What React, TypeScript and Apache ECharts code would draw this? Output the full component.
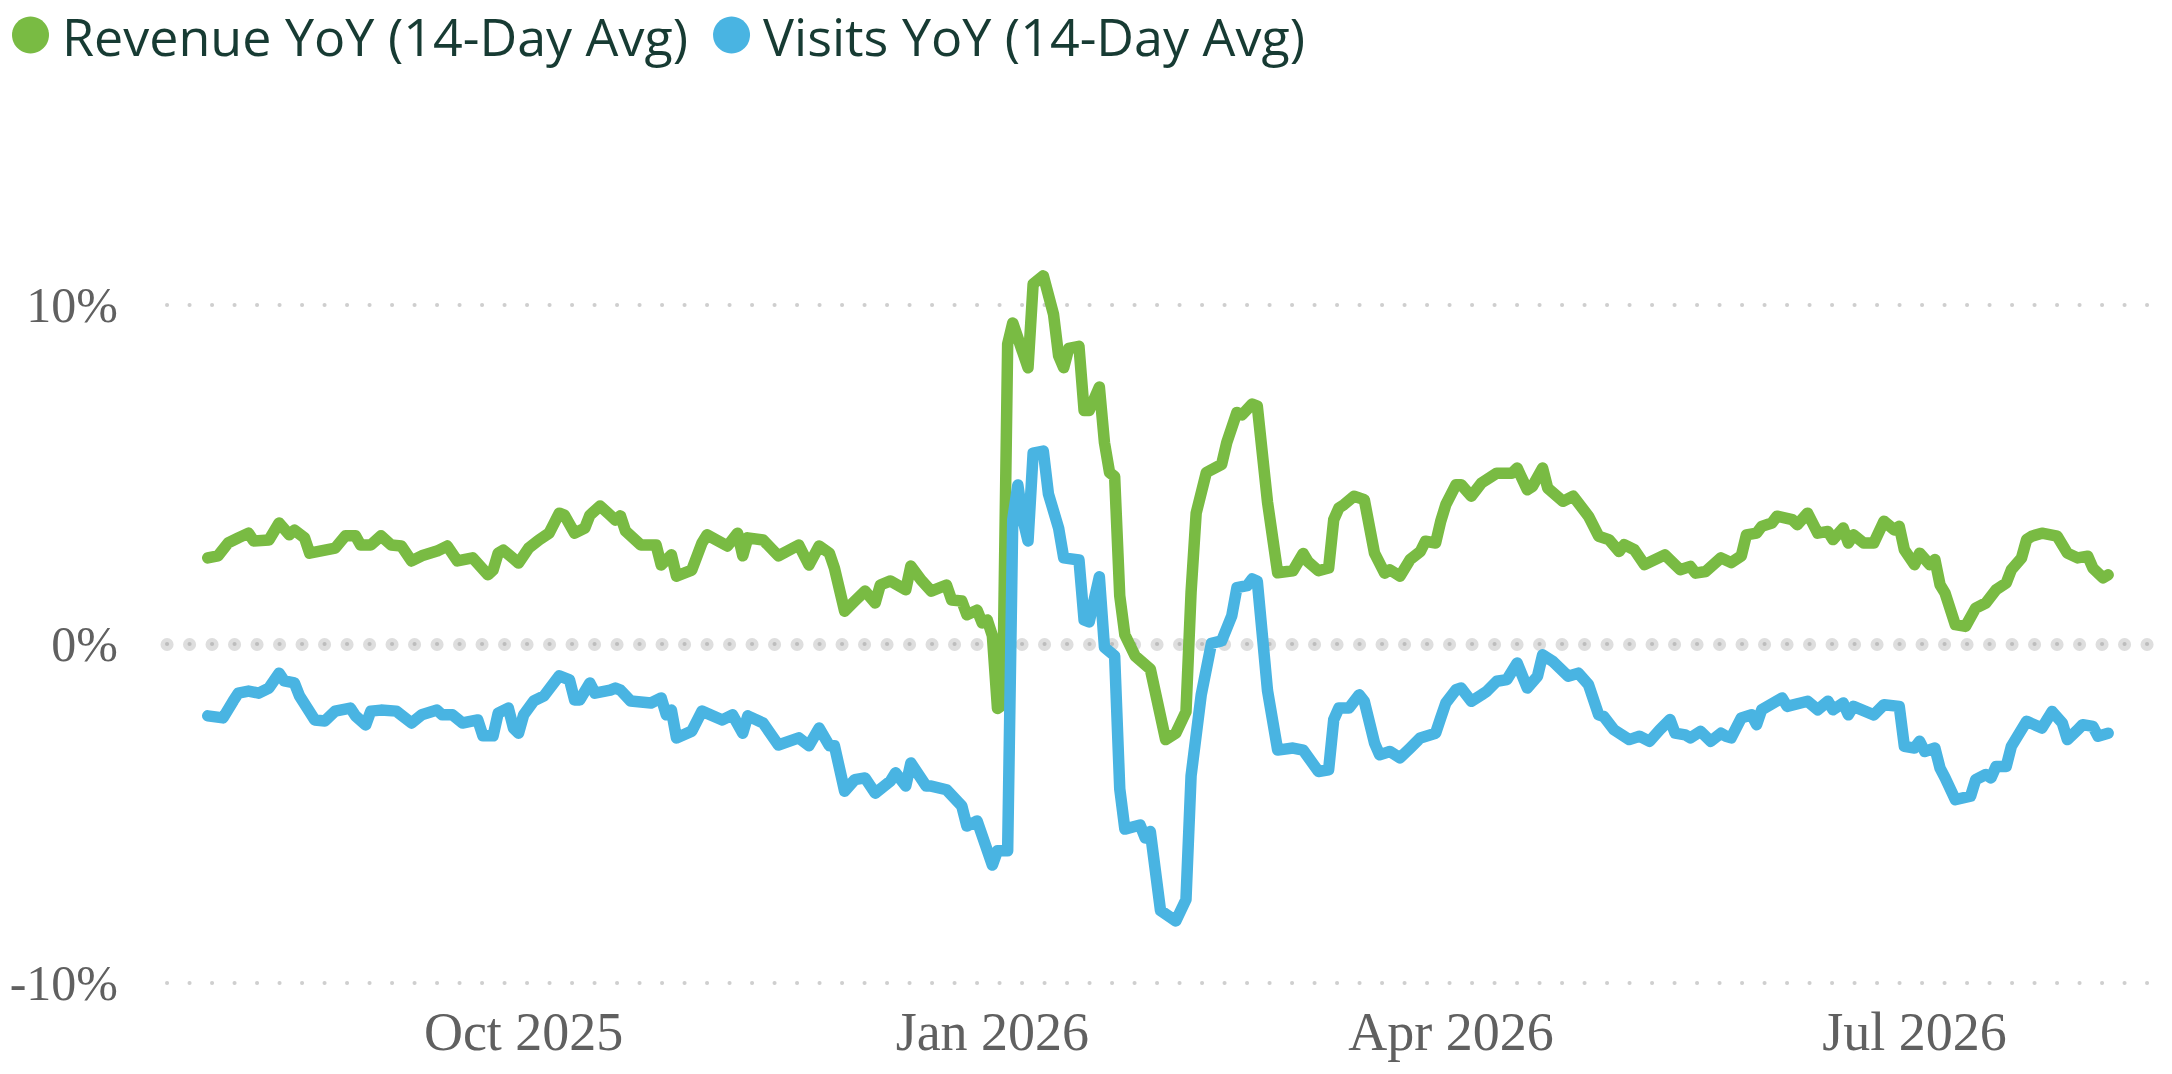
import { useEffect, useRef } from "react";
import * as echarts from "echarts";

const GREEN = "#79bb43";
const BLUE = "#49b4e2";

// one category per day, 2025-07-23 .. 2026-08-17
const START = Date.UTC(2025, 6, 23);
const DAY_COUNT = 391;
const days = Array.from({ length: DAY_COUNT }, (_, i) =>
  new Date(START + i * 86400000).toISOString().slice(0, 10)
);

const quarterTicks = ["2025-10-01", "2026-01-01", "2026-04-01", "2026-07-01"];
const monthNames = ["Jan", "Feb", "Mar", "Apr", "May", "Jun", "Jul", "Aug", "Sep", "Oct", "Nov", "Dec"];
const yTicks = [-10, 0, 10];

// [day index since 2025-07-23, YoY %]
const revenueYoY: [number, number][] = [
  [8, 2.54], [10, 2.6], [12, 2.98], [14, 3.13], [16, 3.27], [17, 3.04], [20, 3.07], [22, 3.57],
  [24, 3.22], [25, 3.36], [27, 3.13], [28, 2.68], [31, 2.77], [33, 2.83], [35, 3.19], [37, 3.19],
  [38, 2.92], [40, 2.92], [42, 3.19], [44, 2.92], [46, 2.89], [48, 2.45], [50, 2.6], [53, 2.74],
  [55, 2.89], [57, 2.45], [60, 2.54], [63, 2.04], [64, 2.18], [65, 2.68], [66, 2.77], [69, 2.39],
  [71, 2.83], [73, 3.07], [75, 3.27], [77, 3.86], [78, 3.8], [80, 3.27], [82, 3.42], [83, 3.8],
  [85, 4.07], [87, 3.8], [88, 3.66], [89, 3.78], [90, 3.33], [93, 2.92], [96, 2.92], [97, 2.33],
  [99, 2.63], [100, 2.0], [103, 2.18], [105, 2.98], [106, 3.22], [110, 2.89], [112, 3.27], [113, 2.6],
  [114, 3.13], [117, 3.07], [120, 2.6], [124, 2.92], [126, 2.33], [128, 2.89], [130, 2.68], [131, 2.24],
  [133, 0.97], [135, 1.27], [137, 1.56], [139, 1.21], [140, 1.74], [142, 1.86], [145, 1.6], [146, 2.3],
  [148, 1.89], [150, 1.56], [153, 1.74], [154, 1.3], [156, 1.27], [157, 0.86], [159, 1.0], [160, 0.62],
  [161, 0.71], [162, 0.24], [163, -1.9], [164, -1.8], [165, 8.85], [166, 9.47], [169, 8.15], [170, 10.62],
  [172, 10.86], [174, 9.73], [175, 8.5], [176, 8.15], [177, 8.72], [179, 8.78], [180, 6.89], [181, 6.89],
  [183, 7.58], [184, 5.94], [185, 5.06], [186, 4.94], [187, 1.42], [188, 0.27], [190, -0.35], [193, -0.74],
  [196, -2.82], [198, -2.63], [200, -2.0], [201, 1.53], [202, 3.86], [204, 5.06], [207, 5.3], [208, 5.94],
  [210, 6.83], [211, 6.76], [213, 7.08], [214, 7.02], [216, 4.19], [218, 2.1], [221, 2.16], [223, 2.67],
  [224, 2.42], [226, 2.16], [228, 2.24], [229, 3.67], [230, 4.01], [231, 4.11], [233, 4.36], [235, 4.26],
  [237, 2.68], [239, 2.09], [240, 2.19], [242, 2.0], [244, 2.49], [246, 2.73], [247, 3.03], [249, 2.98],
  [250, 3.62], [251, 4.11], [253, 4.7], [254, 4.7], [256, 4.36], [258, 4.75], [261, 5.04], [264, 5.04],
  [265, 5.19], [267, 4.55], [268, 4.65], [270, 5.19], [271, 4.6], [274, 4.21], [276, 4.36], [279, 3.77],
  [281, 3.18], [283, 3.08], [285, 2.73], [286, 2.93], [288, 2.78], [290, 2.34], [294, 2.63], [297, 2.19],
  [299, 2.29], [300, 2.09], [302, 2.14], [305, 2.54], [307, 2.4], [309, 2.6], [310, 3.22], [312, 3.27],
  [313, 3.47], [315, 3.57], [316, 3.77], [319, 3.67], [320, 3.52], [322, 3.86], [324, 3.27], [326, 3.32],
  [327, 3.08], [329, 3.42], [330, 2.98], [331, 3.22], [333, 2.98], [335, 2.98], [337, 3.62], [339, 3.37],
  [340, 3.47], [341, 2.78], [343, 2.34], [344, 2.68], [346, 2.34], [347, 2.49], [348, 1.75], [349, 1.5],
  [351, 0.57], [353, 0.52], [355, 1.06], [357, 1.21], [359, 1.6], [361, 1.8], [362, 2.19], [364, 2.54],
  [365, 3.08], [366, 3.18], [368, 3.27], [371, 3.18], [373, 2.68], [375, 2.54], [377, 2.59], [378, 2.24],
  [380, 1.95], [381, 2.04],
];

const visitsYoY: [number, number][] = [
  [8, -2.12], [11, -2.18], [13, -1.68], [14, -1.45], [16, -1.39], [18, -1.45], [20, -1.3], [22, -0.86],
  [23, -1.09], [25, -1.15], [26, -1.53], [29, -2.24], [31, -2.27], [33, -1.98], [36, -1.89], [37, -2.12],
  [39, -2.39], [40, -1.98], [42, -1.95], [45, -1.98], [48, -2.33], [50, -2.09], [53, -1.95], [54, -2.09],
  [56, -2.09], [58, -2.33], [61, -2.24], [62, -2.71], [64, -2.71], [65, -2.04], [67, -1.89], [68, -2.48],
  [69, -2.63], [70, -2.09], [72, -1.68], [74, -1.53], [77, -0.94], [79, -1.06], [80, -1.65], [81, -1.65],
  [83, -1.15], [84, -1.45], [87, -1.36], [88, -1.3], [89, -1.36], [91, -1.68], [95, -1.74], [97, -1.59],
  [98, -2.09], [99, -1.95], [100, -2.77], [103, -2.57], [105, -1.98], [109, -2.24], [111, -2.09], [113, -2.63],
  [114, -2.12], [117, -2.33], [120, -2.98], [124, -2.77], [126, -3.0], [128, -2.48], [130, -3.0], [131, -3.0],
  [133, -4.34], [135, -4.0], [137, -3.95], [139, -4.4], [142, -4.04], [143, -3.8], [145, -4.19], [146, -3.51],
  [149, -4.19], [150, -4.19], [153, -4.3], [156, -4.78], [157, -5.37], [159, -5.22], [162, -6.52], [163, -6.1],
  [165, -6.1], [166, 3.67], [167, 4.69], [168, 3.67], [169, 3.04], [170, 5.63], [172, 5.69], [173, 4.43],
  [175, 3.42], [176, 2.54], [179, 2.48], [180, 0.71], [181, 0.65], [183, 1.98], [184, -0.1], [186, -0.35],
  [187, -4.27], [188, -5.46], [191, -5.34], [192, -5.72], [193, -5.53], [195, -7.86], [198, -8.17], [200, -7.54],
  [201, -3.89], [203, -1.49], [205, 0.02], [207, 0.09], [209, 0.84], [210, 1.66], [212, 1.72], [213, 1.92],
  [214, 1.85], [216, -1.37], [218, -3.13], [221, -3.07], [223, -3.13], [226, -3.76], [228, -3.71], [229, -2.23],
  [230, -1.89], [232, -1.89], [234, -1.5], [235, -1.69], [237, -2.92], [238, -3.27], [240, -3.17], [242, -3.36],
  [244, -3.07], [246, -2.77], [249, -2.63], [250, -2.18], [251, -1.74], [253, -1.35], [254, -1.3], [256, -1.69],
  [258, -1.5], [259, -1.4], [261, -1.1], [263, -1.05], [265, -0.56], [267, -1.3], [269, -0.95], [270, -0.32],
  [272, -0.51], [275, -0.95], [277, -0.86], [279, -1.2], [281, -2.09], [282, -2.14], [284, -2.53], [287, -2.82],
  [289, -2.72], [291, -2.87], [293, -2.53], [295, -2.23], [296, -2.63], [298, -2.68], [299, -2.77], [301, -2.58],
  [303, -2.87], [305, -2.63], [306, -2.72], [307, -2.77], [309, -2.18], [311, -2.09], [312, -2.38], [313, -1.94],
  [317, -1.59], [318, -1.84], [322, -1.69], [324, -1.94], [326, -1.69], [327, -1.94], [329, -1.74], [330, -2.09],
  [331, -1.84], [335, -2.09], [337, -1.79], [340, -1.84], [341, -3.02], [343, -3.07], [344, -2.87], [345, -3.17],
  [347, -3.07], [348, -3.66], [349, -3.95], [351, -4.59], [354, -4.49], [355, -4.0], [357, -3.85], [358, -3.95],
  [359, -3.61], [361, -3.61], [362, -3.02], [365, -2.28], [368, -2.48], [370, -1.99], [372, -2.33], [373, -2.82],
  [375, -2.53], [376, -2.38], [378, -2.43], [379, -2.72], [381, -2.63],
];

const dotted = (width: number, color: string) => ({
  type: [0.1, 22.4],
  width,
  color,
  cap: "round",
});

function App() {
  const chartRef = useRef(null);

  useEffect(() => {
    const chart = echarts.init(chartRef.current, null, { renderer: "svg" });

    const labelStyle = {
      fontFamily: "Liberation Serif",
      color: "#606060",
    };

    const lineSeries = (name: string, color: string, pairs: [number, number][]) => ({
      name,
      type: "line",
      data: pairs.map(([d, v]) => [days[d], v]),
      showSymbol: false,
      symbol: "none",
      clip: false,
      z: 3,
      itemStyle: { color },
      lineStyle: { width: 11.5, color, cap: "round", join: "round" },
    });

    const visits: any = lineSeries("Visits YoY (14-Day Avg)", BLUE, visitsYoY);
    visits.markLine = {
      silent: true,
      symbol: "none",
      z: 1,
      animation: false,
      label: { show: false },
      data: [
        { yAxis: 0, lineStyle: dotted(13, "#dedede") },
        { yAxis: 0, lineStyle: dotted(4, "#bdbdbd") },
      ],
    };

    const option = {
      animation: false,
      color: [GREEN, BLUE],
      legend: {
        left: 12,
        top: 9,
        padding: 0,
        icon: "circle",
        itemWidth: 37,
        itemHeight: 37,
        itemGap: 25,
        textStyle: {
          fontFamily: "Open Sans",
          fontSize: 52,
          color: "#173b33",
          padding: [0, 0, 0, 8],
        },
      },
      grid: { left: 167, right: 18, top: 305, bottom: 91 },
      xAxis: {
        type: "category",
        data: days,
        boundaryGap: false,
        axisLine: { show: false },
        axisTick: { show: false },
        splitLine: { show: false },
        axisLabel: {
          ...labelStyle,
          fontSize: 54,
          margin: 22,
          interval: (_i: number, v: string) => quarterTicks.includes(v),
          formatter: (v: string) => {
            const d = new Date(v + "T00:00:00Z");
            return monthNames[d.getUTCMonth()] + " " + d.getUTCFullYear();
          },
        },
      },
      yAxis: {
        type: "value",
        min: yTicks[0],
        max: yTicks[yTicks.length - 1],
        interval: yTicks[1] - yTicks[0],
        axisLine: { show: false },
        axisTick: { show: false },
        axisLabel: { ...labelStyle, fontSize: 50, margin: 49, formatter: "{value}%" },
        splitLine: { lineStyle: dotted(4, "#cfcfcf") },
      },
      series: [lineSeries("Revenue YoY (14-Day Avg)", GREEN, revenueYoY), visits],
    };

    chart.setOption(option as any);

    return () => {
      chart.dispose();
    };
  }, []);

  return (
    <div
      ref={chartRef}
      style={{ position: "fixed", left: 0, top: 0, width: 2172, height: 1074, background: "#fff" }}
    />
  );
}

export default App;
